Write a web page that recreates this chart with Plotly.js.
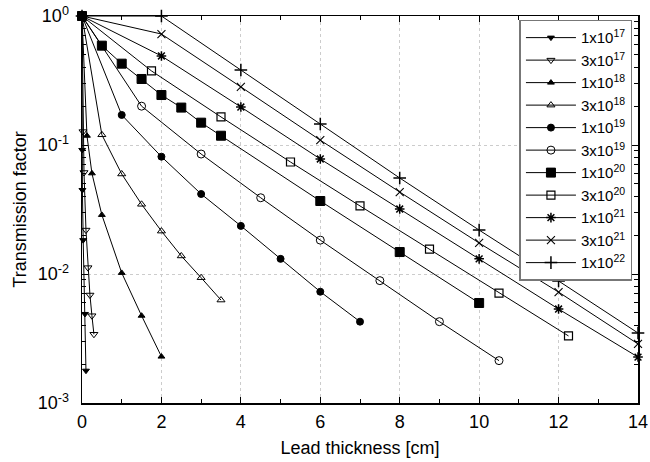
<!DOCTYPE html>
<html>
<head>
<meta charset="utf-8">
<script src="https://cdn.plot.ly/plotly-3.0.1.min.js"></script>
<style>html,body{margin:0;padding:0;background:#fff;}#chart{width:650px;height:462px;}</style>
</head>
<body>
<div id="chart"></div>
<script>
// Lead thickness [cm] and transmission factor for each series
const labels = ["1x10<sup>17</sup>","3x10<sup>17</sup>","1x10<sup>18</sup>","3x10<sup>18</sup>","1x10<sup>19</sup>","3x10<sup>19</sup>","1x10<sup>20</sup>","3x10<sup>20</sup>","1x10<sup>21</sup>","3x10<sup>21</sup>","1x10<sup>22</sup>"];

const x_1e17 = [0, 0.005, 0.01, 0.03, 0.075, 0.1];
const y_1e17 = [1, 0.0915, 0.0448, 0.0183, 0.0049, 0.00178];

const x_3e17 = [0, 0.025, 0.05, 0.1, 0.15, 0.2, 0.25, 0.3];
const y_3e17 = [1, 0.127, 0.0612, 0.0219, 0.0112, 0.00687, 0.00475, 0.00341];

const x_1e18 = [0, 0.125, 0.25, 0.5, 1, 1.5, 2];
const y_1e18 = [1, 0.118, 0.0603, 0.0287, 0.0102, 0.00475, 0.00229];

const x_3e18 = [0, 0.5, 1, 1.5, 2, 2.5, 3, 3.5];
const y_3e18 = [1, 0.120, 0.0596, 0.0347, 0.0215, 0.0138, 0.00936, 0.00628];

const x_1e19 = [0, 1, 2, 3, 4, 5, 6, 7];
const y_1e19 = [1, 0.171, 0.0812, 0.0417, 0.0236, 0.0131, 0.00729, 0.00427];

const x_3e19 = [0, 1.5, 3, 4.5, 6, 7.5, 9, 10.5];
const y_3e19 = [1, 0.200, 0.0851, 0.0390, 0.0183, 0.00888, 0.00427, 0.00213];

const x_1e20 = [0, 0.5, 1, 1.5, 2, 2.5, 3, 3.5, 6, 8, 10];
const y_1e20 = [1, 0.589, 0.427, 0.325, 0.244, 0.195, 0.149, 0.118, 0.0368, 0.0148, 0.00596];

const x_3e20 = [0, 1.75, 3.5, 5.25, 7, 8.75, 10.5, 12.25];
const y_3e20 = [1, 0.375, 0.165, 0.0738, 0.0337, 0.0156, 0.00712, 0.00331];

const x_1e21 = [0, 2, 4, 6, 8, 10, 12, 14];
const y_1e21 = [1, 0.490, 0.197, 0.0779, 0.0319, 0.0131, 0.00535, 0.00227];

const x_3e21 = [0, 2, 4, 6, 8, 10, 12, 14];
const y_3e21 = [1, 0.725, 0.282, 0.109, 0.0432, 0.0174, 0.00724, 0.00287];

const x_1e22 = [0, 2, 4, 6, 8, 10, 12, 14];
const y_1e22 = [1, 1, 0.381, 0.1455, 0.0555, 0.0219, 0.00883, 0.00349];

const xTicks = [0, 2, 4, 6, 8, 10, 12, 14];
const yTickVals = [1, 0.1, 0.01, 0.001];
const yTickText = ["10<sup>0</sup>", "10<sup>-1</sup>", "10<sup>-2</sup>", "10<sup>-3</sup>"];

const xs = [x_1e17, x_3e17, x_1e18, x_3e18, x_1e19, x_3e19, x_1e20, x_3e20, x_1e21, x_3e21, x_1e22];
const ys = [y_1e17, y_3e17, y_1e18, y_3e18, y_1e19, y_3e19, y_1e20, y_3e20, y_1e21, y_3e21, y_1e22];
const symbols = ["triangle-down", "triangle-down-open", "triangle-up", "triangle-up-open", "circle", "circle-open", "square", "square-open", "asterisk-open", "x-thin-open", "cross-thin-open"];
const sizes = [6, 7, 6, 7, 7, 8, 9, 8, 8, 8, 9];
const lineW = [1, 1, 1, 1, 1, 1, 1, 1.2, 1.5, 1.1, 1.5];

const traces = xs.map((x, i) => ({
  x: x, y: ys[i], name: labels[i],
  type: "scatter", mode: "lines+markers",
  cliponaxis: false,
  line: {color: "black", width: 1},
  marker: {symbol: symbols[i], size: sizes[i], color: "black",
           line: {color: "black", width: lineW[i]}}
}));

const fontFam = "Liberation Sans, Arial, Helvetica, sans-serif";

const layout = {
  width: 650, height: 462,
  margin: {l: 82, r: 12, t: 16, b: 59},
  paper_bgcolor: "#fff", plot_bgcolor: "#fff",
  font: {family: fontFam, size: 14, color: "#000"},
  showlegend: true,
  legend: {x: 0.99, xanchor: "right", y: 0.99, yanchor: "top",
           bgcolor: "#fff", bordercolor: "#777", borderwidth: 1.5,
           font: {family: fontFam, size: 15, color: "#000"},
           itemwidth: 50, tracegroupgap: 0},
  xaxis: {
    range: [0, 14], tickvals: xTicks, ticks: "inside", ticklen: 6,
    tickcolor: "#000", showline: true, linecolor: "#000", linewidth: 1.5,
    mirror: "ticks", showgrid: true, gridcolor: "#cccccc", griddash: "dot",
    zeroline: false, ticklabelstandoff: 2,
    minor: {dtick: 1, ticks: "inside", ticklen: 4, tickcolor: "#000", showgrid: false},
    title: {text: "Lead thickness [cm]", font: {size: 18}, standoff: 10},
    tickfont: {size: 18}
  },
  yaxis: {
    type: "log", range: [-3, 0], tickvals: yTickVals, ticktext: yTickText,
    ticks: "inside", ticklen: 6, tickcolor: "#000",
    showline: true, linecolor: "#000", linewidth: 1.5, mirror: "ticks",
    showgrid: true, gridcolor: "#cccccc", griddash: "dot", zeroline: false,
    ticklabelstandoff: 8,
    minor: {dtick: "D1", ticks: "inside", ticklen: 4, tickcolor: "#000", showgrid: false},
    title: {text: "Transmission factor", font: {size: 18}, standoff: 6},
    tickfont: {size: 18}
  }
};

Plotly.newPlot("chart", traces, layout, {displayModeBar: false, staticPlot: true});
</script>
</body>
</html>
